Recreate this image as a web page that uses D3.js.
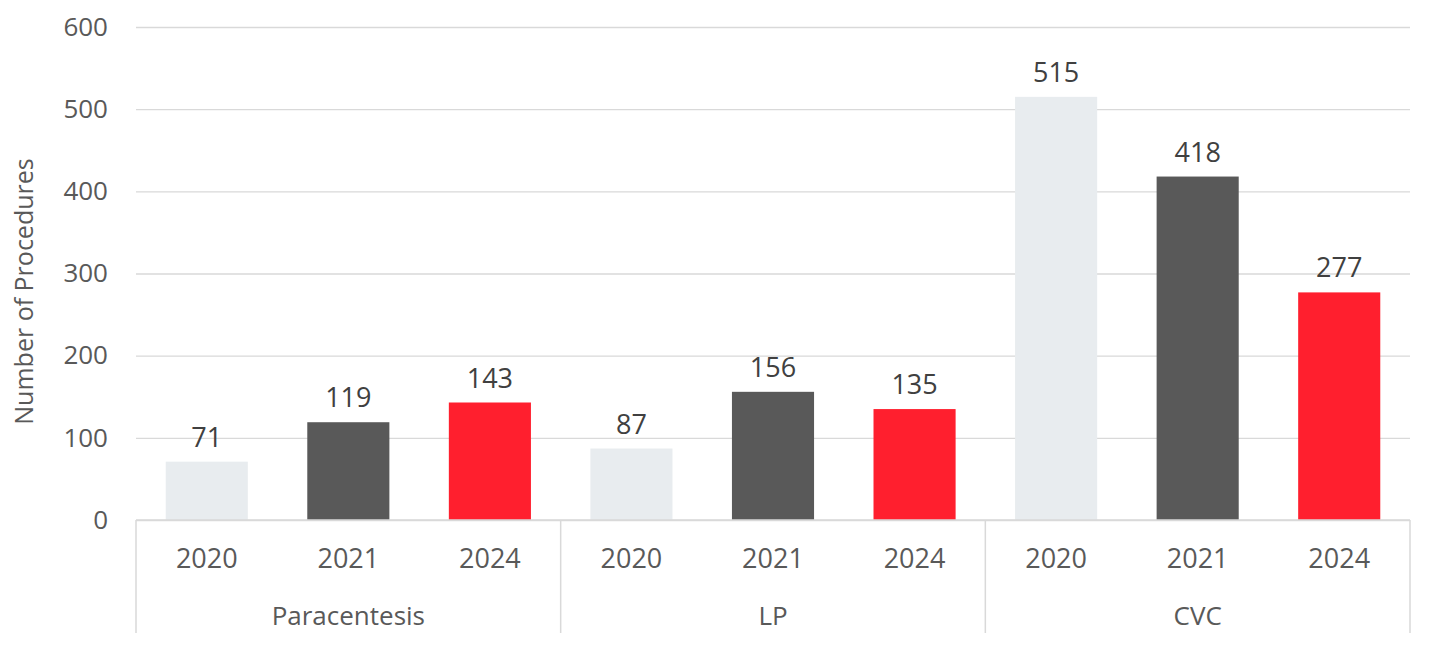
<!DOCTYPE html>
<html>
<head>
<meta charset="utf-8">
<script src="https://cdn.jsdelivr.net/npm/d3@7"></script>
<style>
  body { margin: 0; background: #fff; }
  svg text { font-family: "Open Sans", "Noto Sans", sans-serif; }
</style>
</head>
<body>
<div class="chart"></div>
<script>
// chart values
var procedures = ["Paracentesis", "LP", "CVC"];
var years = ["2020", "2021", "2024"];
var counts = {
  "Paracentesis": [71, 119, 143],
  "LP": [87, 156, 135],
  "CVC": [515, 418, 277]
};
var yTicks = [0, 100, 200, 300, 400, 500, 600];
var yearColors = ["#e8ecef", "#595959", "#ff1f2e"];

var width = 1430, height = 645;
var margin = {top: 27, right: 20, bottom: 125, left: 136};
var plotW = width - margin.left - margin.right,
    plotH = height - margin.top - margin.bottom;

var svg = d3.select(".chart").append("svg")
    .attr("width", width)
    .attr("height", height);

var g = svg.append("g")
    .attr("transform", "translate(" + margin.left + "," + margin.top + ")");

// scales
var x0 = d3.scaleBand().domain(procedures).range([0, plotW]).padding(0);
var x1 = d3.scaleBand().domain(years).range([0, x0.bandwidth()])
    .paddingInner(0.42).paddingOuter(0.21);
var y = d3.scaleLinear().domain([0, 600]).range([plotH, 0]);

// gridlines
g.append("g")
  .call(d3.axisLeft(y).tickValues(yTicks).tickSize(-plotW).tickFormat(""))
  .call(function(s) {
    s.select(".domain").remove();
    s.selectAll("line").attr("stroke", "#d9d9d9").attr("stroke-width", 1.3);
  });

// y tick labels
g.append("g")
  .call(d3.axisLeft(y).tickValues(yTicks).tickSize(0).tickPadding(28))
  .call(function(s) {
    s.select(".domain").remove();
    s.selectAll("text").attr("fill", "#595959").style("font-size", "26px");
  });

// bars
var data = [];
procedures.forEach(function(p) {
  years.forEach(function(yr, i) {
    data.push({proc: p, year: yr, idx: i, value: counts[p][i]});
  });
});

g.selectAll(".bar")
    .data(data)
  .enter().append("rect")
    .attr("class", "bar")
    .attr("x", function(d) { return x0(d.proc) + x1(d.year); })
    .attr("width", x1.bandwidth())
    .attr("y", function(d) { return y(d.value); })
    .attr("height", function(d) { return plotH - y(d.value); })
    .attr("fill", function(d) { return yearColors[d.idx]; });

// value labels
g.selectAll(".val")
    .data(data)
  .enter().append("text")
    .attr("class", "val")
    .attr("x", function(d) { return x0(d.proc) + x1(d.year) + x1.bandwidth() / 2; })
    .attr("y", function(d) { return y(d.value) - 15; })
    .attr("text-anchor", "middle")
    .attr("fill", "#404040")
    .style("font-size", "27px")
    .text(function(d) { return d.value; });

// x axis baseline
g.append("line")
  .attr("x1", 0).attr("x2", plotW)
  .attr("y1", plotH).attr("y2", plotH)
  .attr("stroke", "#d9d9d9").attr("stroke-width", 1.5);

// group dividers
var edges = procedures.map(function(p) { return x0(p); }).concat([plotW]);
g.selectAll(".divider")
    .data(edges)
  .enter().append("line")
    .attr("class", "divider")
    .attr("x1", function(d) { return d; })
    .attr("x2", function(d) { return d; })
    .attr("y1", plotH)
    .attr("y2", plotH + 113)
    .attr("stroke", "#d9d9d9").attr("stroke-width", 1.5);

// year labels
g.selectAll(".yr")
    .data(data)
  .enter().append("text")
    .attr("class", "yr")
    .attr("x", function(d) { return x0(d.proc) + x1(d.year) + x1.bandwidth() / 2; })
    .attr("y", plotH + 48)
    .attr("text-anchor", "middle")
    .attr("fill", "#595959")
    .style("font-size", "27px")
    .text(function(d) { return d.year; });

// procedure labels
g.selectAll(".proc")
    .data(procedures)
  .enter().append("text")
    .attr("class", "proc")
    .attr("x", function(d) { return x0(d) + x0.bandwidth() / 2; })
    .attr("y", plotH + 105)
    .attr("text-anchor", "middle")
    .attr("fill", "#595959")
    .style("font-size", "26px")
    .text(function(d) { return d; });

// y axis title
svg.append("text")
  .attr("transform", "translate(33," + (margin.top + y(300) + 18) + ") rotate(-90)")
  .attr("text-anchor", "middle")
  .attr("fill", "#595959")
  .style("font-size", "25px")
  .text("Number of Procedures");
</script>
</body>
</html>
